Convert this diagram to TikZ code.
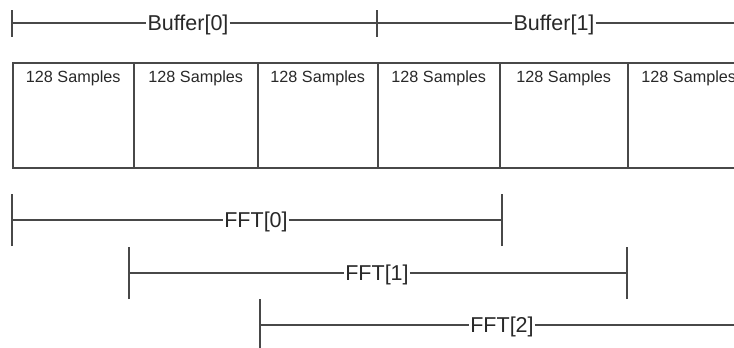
\documentclass[tikz,border=0pt]{standalone}
\usepackage{fontspec}
\setmainfont{Liberation Sans}
\definecolor{linec}{RGB}{72,72,72}
\definecolor{txtc}{RGB}{40,40,40}
\begin{document}
\begin{tikzpicture}[x=1pt,y=-1pt,
  ln/.style={draw=linec, line width=1.5pt},
  lbl/.style={font=\fontsize{21.5}{24}\selectfont, text=txtc, inner sep=1pt, text height=15.4pt, text depth=0pt, anchor=center},
  smp/.style={font=\fontsize{16.2}{19}\selectfont, text=txtc, inner sep=0pt, anchor=base},
  cell/.style={draw=linec, line width=1.5pt, minimum height=105pt, inner sep=0pt, anchor=north west}]
\useasboundingbox (0,0) rectangle (734,348);
\clip (0,0) rectangle (734,348);
% Buffer ruler
\coordinate (b0) at (12,23);
\coordinate (b1) at (377,23);
\coordinate (b2) at (760,23);
\node[lbl] (buf0) at (188,23) {Buffer[0]};
\node[lbl] (buf1) at (554,23) {Buffer[1]};
\draw[ln] (b0) -- (buf0.west) (buf0.east) -- (b1) -- (buf1.west) (buf1.east) -- (b2);
\draw[ln] ([yshift=-13.5pt]b0) -- ([yshift=13.5pt]b0);
\draw[ln] ([yshift=-13.5pt]b1) -- ([yshift=13.5pt]b1);
% Sample cells
\node[cell, minimum width=121pt] (c1) at (12,62) {};
\node[cell, minimum width=124pt] (c2) at (133,62) {};
\node[cell, minimum width=120pt] (c3) at (257,62) {};
\node[cell, minimum width=122pt] (c4) at (377,62) {};
\node[cell, minimum width=128pt] (c5) at (499,62) {};
\node[cell, minimum width=122pt] (c6) at (627,62) {};
\foreach \c in {c1,c2,c3,c4,c5,c6}
  \node[smp] (s\c) at ([yshift=-20pt]\c.north) {128 Samples};
% FFT rulers
\coordinate (f0a) at (12,220);
\coordinate (f0b) at (502,220);
\coordinate (f1a) at (129,273);
\coordinate (f1b) at (627,273);
\coordinate (f2a) at (260,325);
\coordinate (f2b) at (760,325);
\node[lbl] (fft0) at (256,220) {FFT[0]};
\node[lbl] (fft1) at (377,273) {FFT[1]};
\node[lbl] (fft2) at (502,325) {FFT[2]};
\draw[ln] (f0a) -- (fft0.west) (fft0.east) -- (f0b);
\draw[ln] (f1a) -- (fft1.west) (fft1.east) -- (f1b);
\draw[ln] (f2a) -- (fft2.west) (fft2.east) -- (f2b);
\foreach \p in {f0a,f0b,f1a,f1b,f2a}
  \draw[ln] ([yshift=-26pt]\p) -- ([yshift=26pt]\p);
\end{tikzpicture}
\end{document}
